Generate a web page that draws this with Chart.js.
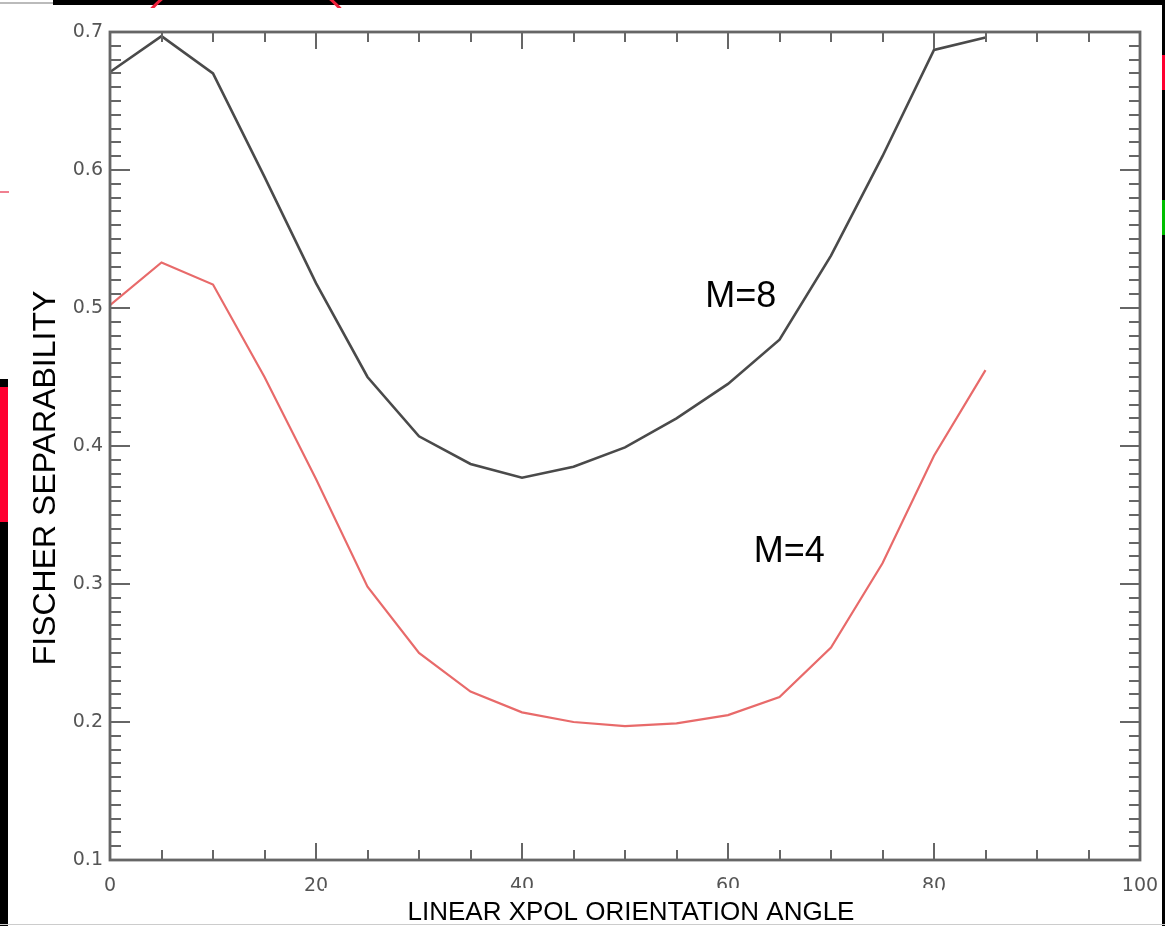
<!DOCTYPE html>
<html>
<head>
<meta charset="utf-8">
<title>Fischer separability vs orientation angle</title>
<script src="https://cdn.jsdelivr.net/npm/chart.js@4.4.1/dist/chart.umd.min.js"></script>
<style>
    html, body { margin: 0; padding: 0; background: #fff; overflow: hidden; }
    #wrap { position: relative; width: 1165px; height: 926px; }
    #chart { position: absolute; left: 0; top: 0; }
    .deco { position: absolute; pointer-events: none; }
</style>
</head>
<body>
<div id="wrap">
    <canvas id="chart" width="1165" height="926"></canvas>

    <!-- slide frame bits around the plot -->
    <div class="deco" style="left:0;top:2px;width:53px;height:2px;background:#bbb"></div>
    <div class="deco" style="left:53px;top:0;width:1112px;height:5px;background:#000"></div>
    <div class="deco" style="left:0;top:0;width:1165px;height:8px;overflow:hidden">
        <div style="position:absolute;left:116px;top:-34px;width:254px;height:254px;border:3px solid #f0203a;border-radius:50%"></div>
    </div>
    <div class="deco" style="left:0;top:191px;width:9px;height:2px;background:#f08090"></div>
    <div class="deco" style="left:0;top:379px;width:8px;height:547px;background:#000"></div>
    <div class="deco" style="left:0;top:387px;width:8px;height:135px;background:#ff0030"></div>
    <div class="deco" style="left:1162px;top:0;width:3px;height:926px;background:#000"></div>
    <div class="deco" style="left:1162px;top:55px;width:3px;height:35px;background:#ff0030"></div>
    <div class="deco" style="left:1162px;top:200px;width:3px;height:35px;background:#00c000"></div>
    <div class="deco" style="left:0;top:924px;width:1165px;height:1px;background:#ccc"></div>
</div>
<script>
    const angles = [0, 5, 10, 15, 20, 25, 30, 35, 40, 45, 50, 55, 60, 65, 70, 75, 80, 85];
    const m8Values = [0.671, 0.697, 0.670, 0.595, 0.518, 0.450, 0.407, 0.387, 0.377, 0.385, 0.399, 0.420, 0.445, 0.477, 0.538, 0.610, 0.687, 0.696];
    const m4Values = [0.502, 0.533, 0.517, 0.450, 0.376, 0.298, 0.250, 0.222, 0.207, 0.200, 0.197, 0.199, 0.205, 0.218, 0.254, 0.315, 0.393, 0.455];

    const xTicks = [0, 20, 40, 60, 80, 100];
    const yTicks = [0.1, 0.2, 0.3, 0.4, 0.5, 0.6, 0.7];

    const curveLabels = [
        { text: "M=8", x: 57.8, y: 0.5005 },
        { text: "M=4", x: 62.5, y: 0.316 }
    ];

    const axisColor = "#666";
    const labelColor = "#555";
    const tickFont = { family: "DejaVu Sans", size: 19 };

    const toPoints = (values) => values.map((v, i) => ({ x: angles[i], y: v }));

    // IDL-style box: frame on all four sides with inward major/minor ticks
    const framePlugin = {
        id: "frame",
        afterDraw(chart) {
            const { ctx, chartArea: area, scales } = chart;
            const xs = scales.x;
            const ys = scales.y;

            ctx.save();
            ctx.strokeStyle = axisColor;
            ctx.lineWidth = 2.8;
            ctx.strokeRect(area.left, area.top, area.right - area.left, area.bottom - area.top);

            ctx.lineWidth = 2;
            ctx.beginPath();
            for (let v = 0; v <= 100; v += 5) {
                const px = Math.round(xs.getPixelForValue(v));
                const len = v % 20 === 0 ? 17 : 10;
                ctx.moveTo(px, area.bottom);
                ctx.lineTo(px, area.bottom - len);
                ctx.moveTo(px, area.top);
                ctx.lineTo(px, area.top + len);
            }
            for (let i = 10; i <= 70; i += 1) {
                const py = Math.round(ys.getPixelForValue(i / 100));
                const len = i % 10 === 0 ? 20 : 11;
                ctx.moveTo(area.left, py);
                ctx.lineTo(area.left + len, py);
                ctx.moveTo(area.right, py);
                ctx.lineTo(area.right - len, py);
            }
            ctx.stroke();

            // curve captions
            ctx.fillStyle = "#000";
            ctx.font = "36px 'Liberation Sans', Arial, sans-serif";
            ctx.textAlign = "left";
            ctx.textBaseline = "alphabetic";
            curveLabels.forEach((lbl) => {
                ctx.fillText(lbl.text, xs.getPixelForValue(lbl.x), ys.getPixelForValue(lbl.y));
            });

            // y axis title
            ctx.save();
            ctx.translate(55, 478);
            ctx.rotate(-Math.PI / 2);
            ctx.textAlign = "center";
            ctx.font = "32px 'Liberation Sans', Arial, sans-serif";
            ctx.fillText("FISCHER SEPARABILITY", 0, 0);
            ctx.restore();

            // x axis title on its own white box
            ctx.fillStyle = "#fff";
            ctx.fillRect(324, 888, 618, 38);
            ctx.fillStyle = "#000";
            ctx.textAlign = "center";
            ctx.font = "26px 'Liberation Sans', Arial, sans-serif";
            ctx.fillText("LINEAR XPOL ORIENTATION ANGLE", 631, 920);
            ctx.restore();
        }
    };

    new Chart(document.getElementById("chart"), {
        type: "line",
        data: {
            datasets: [
                {
                    label: "M=8",
                    data: toPoints(m8Values),
                    borderColor: "#4a4a4a",
                    borderWidth: 2.6,
                    pointRadius: 0,
                    tension: 0
                },
                {
                    label: "M=4",
                    data: toPoints(m4Values),
                    borderColor: "#e86a6a",
                    borderWidth: 2.2,
                    pointRadius: 0,
                    tension: 0
                }
            ]
        },
        options: {
            responsive: false,
            animation: false,
            devicePixelRatio: 1,
            layout: { padding: { top: 32, right: 25, left: 0, bottom: 0 } },
            plugins: {
                legend: { display: false },
                tooltip: { enabled: false }
            },
            scales: {
                x: {
                    type: "linear",
                    min: 0,
                    max: 100,
                    afterBuildTicks: (scale) => { scale.ticks = xTicks.map((value) => ({ value })); },
                    afterFit: (scale) => {
                        scale.height = 66;
                        scale.paddingLeft = 0;
                        scale.paddingRight = 0;
                    },
                    grid: { display: false, drawTicks: false, tickLength: 0 },
                    border: { display: false },
                    ticks: {
                        autoSkip: false,
                        maxRotation: 0,
                        padding: 15,
                        color: labelColor,
                        font: tickFont,
                        callback: (v) => String(v)
                    }
                },
                y: {
                    type: "linear",
                    min: 0.1,
                    max: 0.7,
                    afterBuildTicks: (scale) => { scale.ticks = yTicks.map((value) => ({ value })); },
                    afterFit: (scale) => {
                        scale.width = 110;
                        scale.paddingTop = 0;
                        scale.paddingBottom = 0;
                    },
                    grid: { display: false, drawTicks: false, tickLength: 0 },
                    border: { display: false },
                    ticks: {
                        autoSkip: false,
                        padding: 7,
                        color: labelColor,
                        font: tickFont,
                        callback: (v) => v.toFixed(1)
                    }
                }
            }
        },
        plugins: [framePlugin]
    });
</script>
</body>
</html>
